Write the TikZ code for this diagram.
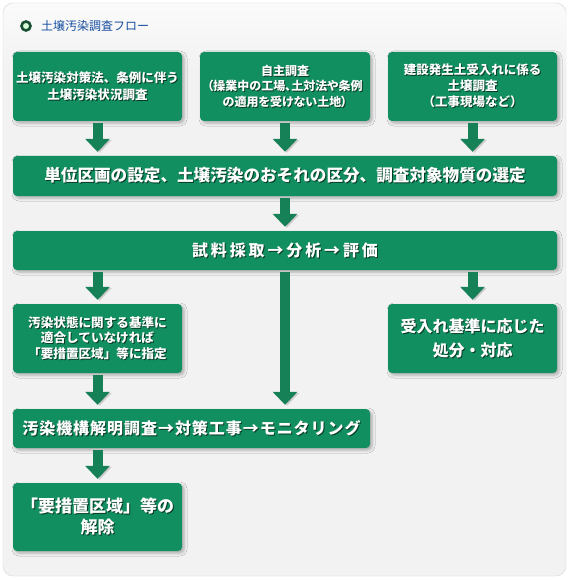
\documentclass[tikz,border=0pt]{standalone}
\usepackage{fontspec}
\setmainfont{Noto Sans CJK JP}
\newfontfamily\jpls{Noto Sans CJK JP}[LetterSpace=18]
\newfontfamily\jplt{Noto Sans CJK JP}[LetterSpace=6]
\newfontfamily\jpp{Noto Sans CJK JP}[RawFeature=+palt]
\usetikzlibrary{arrows.meta,shadows.blur}
\definecolor{boxg}{RGB}{18,143,96}
\definecolor{arrg}{RGB}{22,128,86}
\definecolor{panel}{RGB}{242,242,242}
\definecolor{panelb}{RGB}{216,216,216}
\definecolor{ttl}{RGB}{22,78,160}
\definecolor{icog}{RGB}{24,80,50}
\definecolor{tshadow}{RGB}{6,60,38}
\newcommand\tsh[1]{\leavevmode\rlap{\kern1pt\raisebox{-1pt}{\textcolor{tshadow}{#1}}}#1}
\begin{document}
\begin{tikzpicture}[x=1pt,y=-1pt,
  box/.style={fill=boxg, rounded corners=4pt, inner sep=0pt, text=white, align=center,
    blur shadow={shadow xshift=2pt, shadow yshift=-2pt, shadow blur radius=3pt, shadow opacity=30}},
  flow/.style={draw=arrg, line width=10pt, -{Triangle[width=24pt,length=13pt]},
    shorten <=2pt, shorten >=4pt,
    preaction={draw=black, opacity=0.15, transform canvas={xshift=2pt,yshift=-1pt}}}
]
\useasboundingbox (0,0) rectangle (570,580);
\path[fill=white] (0,0) rectangle (570,580);
\draw[panelb, fill=panel, rounded corners=10pt] (3,3) rectangle (566,576);
\begin{scope}
  \clip[rounded corners=10pt] (3.5,3.5) rectangle (565.5,575.5);
  \shade[top color=white!70!panel, bottom color=panel] (0,0) rectangle (570,70);
\end{scope}

\node (ico) at (26,26) [circle, draw=icog, line width=2.6pt, fill=white!85!green, minimum size=9pt, inner sep=0pt] {};
\node (title) at (41,26) [anchor=west, text=ttl, inner sep=0pt, font=\fontsize{12}{14}\selectfont] {土壌汚染調査フロー};

\node[box, minimum width=169pt, minimum height=69pt, font=\fontsize{12.5}{17}\selectfont\bfseries] (b1) at (97.5,86.5)
  {\tsh{土壌汚染対策法、条例に伴う}\\\tsh{土壌汚染状況調査}};
\node[box, minimum width=170pt, minimum height=69pt, font=\jpp\fontsize{12}{15.5}\selectfont\bfseries] (b2) at (285,86.5)
  {\tsh{自主調査}\\\tsh{（操業中の工場、土対法や条例}\\\tsh{の適用を受けない土地）}};
\node[box, minimum width=169pt, minimum height=69pt, font=\fontsize{12.5}{16}\selectfont\bfseries] (b3) at (472.5,86.5)
  {\tsh{建設発生土受入れに係る}\\\tsh{土壌調査}\\\tsh{（工事現場など）}};
\node[box, minimum width=544pt, minimum height=40pt, font=\fontsize{16.6}{19}\selectfont\bfseries] (b4) at (285,176)
  {\tsh{単位区画の設定、土壌汚染のおそれの区分、調査対象物質の選定}};
\node[box, minimum width=544pt, minimum height=39pt, font=\jpls\fontsize{16}{19}\selectfont\bfseries] (b5) at (285,250.5)
  {\tsh{試料採取→分析→評価}};
\node[box, minimum width=169pt, minimum height=69pt, font=\fontsize{12.6}{15.5}\selectfont\bfseries] (b6) at (97.5,338.5)
  {\tsh{汚染状態に関する基準に}\\\tsh{適合していなければ}\\\tsh{「要措置区域」等に指定}};
\node[box, minimum width=169pt, minimum height=69pt, font=\fontsize{16}{24}\selectfont\bfseries] (b7) at (472.5,338.5)
  {\tsh{受入れ基準に応じた}\\\tsh{処分・対応}};
\node[box, minimum width=357pt, minimum height=39pt, font=\jplt\fontsize{16}{19}\selectfont\bfseries] (b8) at (191.5,428.5)
  {\tsh{汚染機構解明調査→対策工事→モニタリング}};
\node[box, minimum width=169pt, minimum height=68pt, font=\fontsize{17}{21}\selectfont\bfseries] (b9) at (97.5,517)
  {\tsh{「要措置区域」等の}\\\tsh{解除}};

\draw[flow] (b1.south) -- (b1.south |- b4.north);
\draw[flow] (b2.south) -- (b2.south |- b4.north);
\draw[flow] (b3.south) -- (b3.south |- b4.north);
\draw[flow] (b4.south) -- (b5.north);
\draw[flow] (b5.south -| b6.north) -- (b6.north);
\draw[flow] (b5.south) -- (b5.south |- b8.north);
\draw[flow] (b5.south -| b7.north) -- (b7.north);
\draw[flow] (b6.south) -- (b6.south |- b8.north);
\draw[flow] (b8.south -| b9.north) -- (b9.north);
\end{tikzpicture}
\end{document}
